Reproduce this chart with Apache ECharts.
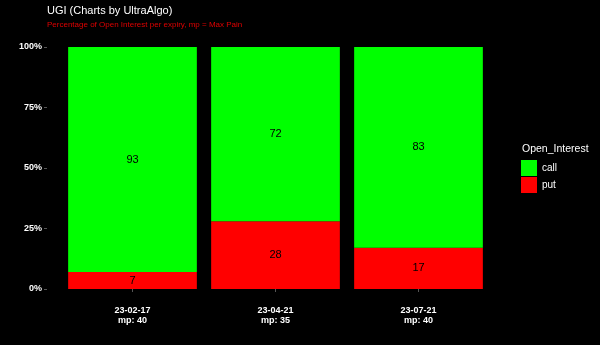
<!DOCTYPE html>
<html><head><meta charset="utf-8">
<script src="https://cdn.jsdelivr.net/npm/echarts@6/dist/echarts.min.js"></script>
<style>html,body{margin:0;padding:0;background:#000;}#c{width:600px;height:345px;}</style>
</head><body><div id="c"></div>
<script>
const categories = ['23-02-17\nmp: 40', '23-04-21\nmp: 35', '23-07-21\nmp: 40'];
const callValues = [93, 72, 83];
const putValues = [7, 28, 17];
const yTicks = [0, 25, 50, 75, 100];

const chart = echarts.init(document.getElementById('c'));
const FF = 'Liberation Sans, Arial, sans-serif';
const lbl = {show: true, position: 'inside', color: '#000', fontSize: 11, fontFamily: FF};
chart.setOption({
  backgroundColor: '#000',
  animation: false,
  title: [
    {text: 'UGI (Charts by UltraAlgo)', left: 47, top: 5, padding: 0,
     textStyle: {color: '#ffffff', fontSize: 11, fontWeight: 'normal', fontFamily: FF}},
    {text: 'Percentage of Open Interest per expiry, mp = Max Pain', left: 47, top: 21, padding: 0,
     textStyle: {color: '#e00000', fontSize: 8, fontWeight: 'normal', fontFamily: FF}},
    {text: 'Open_Interest', left: 522, top: 144, padding: 0,
     textStyle: {color: '#ffffff', fontSize: 10.5, fontWeight: 'normal', fontFamily: FF}}
  ],
  legend: {
    orient: 'vertical', left: 521, top: 160, itemWidth: 16, itemHeight: 16, itemGap: 1, padding: 0,
    data: ['call', 'put'],
    textStyle: {color: '#ffffff', fontSize: 10, fontFamily: FF, padding: [2, 0, 0, 0]},
    icon: 'rect'
  },
  grid: {left: 61, top: 47, width: 429, height: 242, containLabel: false},
  xAxis: {
    type: 'category', data: categories, boundaryGap: true, offset: 12,
    axisLine: {show: false},
    axisTick: {show: true, alignWithLabel: true, length: 3, lineStyle: {color: '#555'}},
    axisLabel: {color: '#ffffff', fontWeight: 'bold', fontSize: 9, lineHeight: 10, margin: 5,
      fontFamily: FF}
  },
  yAxis: {
    type: 'value', min: 0, max: 100, interval: 25, offset: 14,
    axisLine: {show: false},
    axisTick: {show: true, length: 3, lineStyle: {color: '#555'}},
    splitLine: {show: false},
    axisLabel: {color: '#ffffff', fontWeight: 'bold', fontSize: 9, margin: 5,
      fontFamily: FF,
      formatter: v => yTicks.includes(v) ? v + '%' : ''}
  },
  series: [
    {name: 'put', type: 'bar', stack: 'oi', data: putValues, barWidth: '90%',
     itemStyle: {color: '#ff0000'}, label: lbl},
    {name: 'call', type: 'bar', stack: 'oi', data: callValues, barWidth: '90%',
     itemStyle: {color: '#00ff00'}, label: lbl}
  ]
});
</script></body></html>
